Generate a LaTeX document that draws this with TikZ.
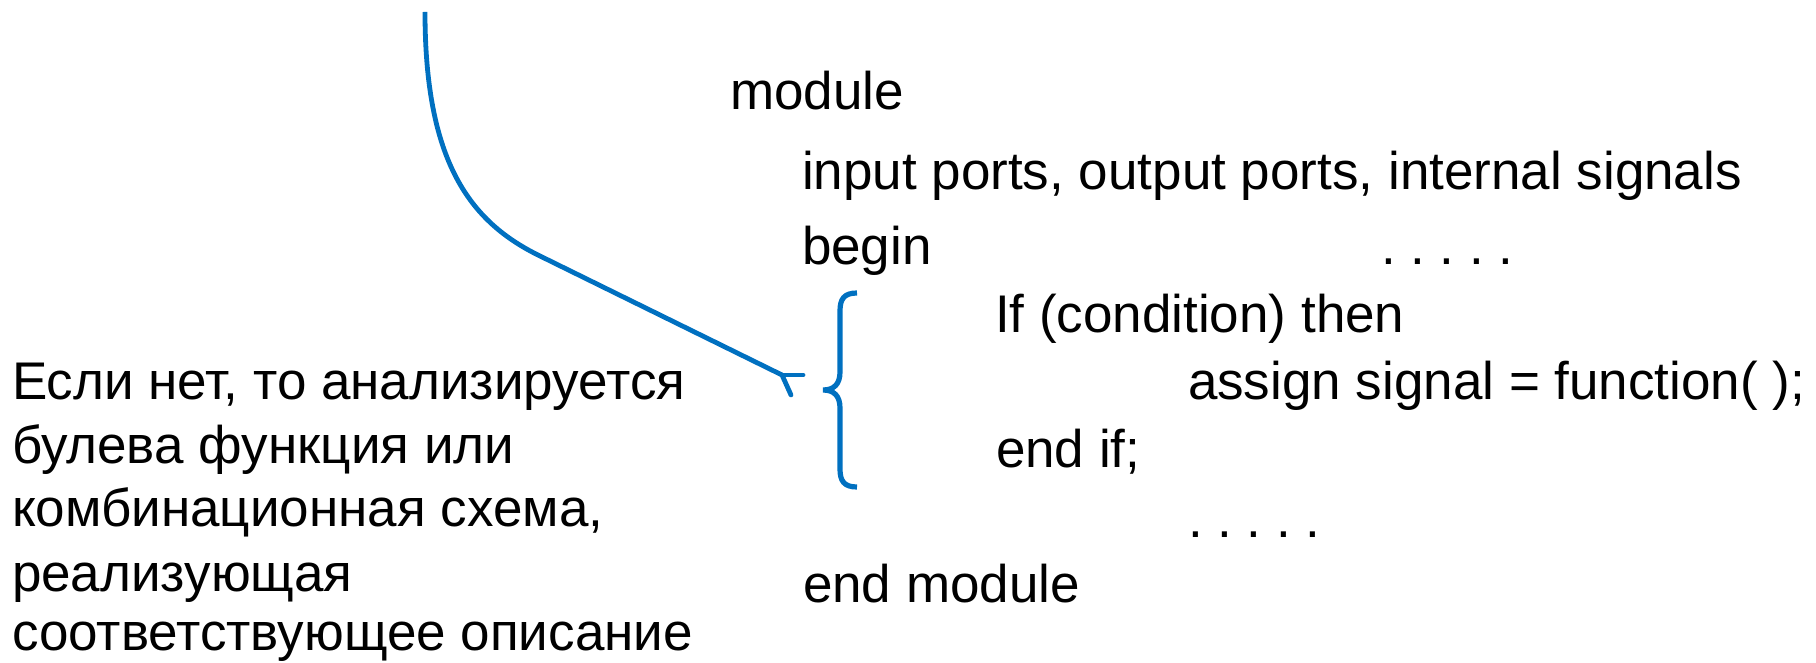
\documentclass[tikz,border=0pt]{standalone}
\usepackage{fontspec}
\setmainfont{Liberation Sans}
\definecolor{blu}{HTML}{0070C0}
\frenchspacing
\begin{document}
\begin{tikzpicture}[x=0.5pt,y=-0.5pt,
  txt/.style={inner sep=0pt, outer sep=0pt, anchor=base west, font=\fontsize{26.5pt}{31pt}\selectfont, text=black},
  bluline/.style={draw=blu, line width=2.4pt},
  bracestyle/.style={draw=blu, line width=2.6pt}]
\useasboundingbox (0,0) rectangle (1816,663);
% code text
\node[txt] (mod)   at (730,110) {module};
\node[txt] (ports) at (802,190) {input ports, output ports, internal signals};
\node[txt] (begin) at (802,265) {begin};
\node[txt] (dotsA) at (1381,265) {. . . . .};
\node[txt] (ifc)   at (995,333) {If (condition) then};
\node[txt] (asg)   at (1188,400) {assign signal = function( );};
\node[txt] (endif) at (996,467) {end if;};
\node[txt] (dotsB) at (1188,537) {. . . . .};
\node[txt] (endm)  at (803,602) {end module};
% comment text
\node[txt] (c1) at (12,400) {Если нет, то анализируется};
\node[txt] (c2) at (12,463) {булева функция или};
\node[txt] (c3) at (12,526) {комбинационная схема,};
\node[txt] (c4) at (12,591) {реализующая};
\node[txt] (c5) at (12,650) {соответствующее описание};
% brace
\coordinate (btop) at (857,293);
\coordinate (btip) at (823,390);
\coordinate (bbot) at (857,487);
\draw[bracestyle] (btop) .. controls (844,293) and (840,299) .. (840,311)
  -- (840,372) .. controls (840,384) and (834,390) .. (btip)
  .. controls (834,390) and (840,396) .. (840,408)
  -- (840,469) .. controls (840,481) and (844,487) .. (bbot);
% connector
\coordinate (start) at (425,12);
\coordinate (bend) at (540,256);
\coordinate (jn) at (782,375);
\draw[bluline] (start) .. controls (425,162) and (470,222) .. (bend) -- (jn);
\draw[bluline, line cap=round] (jn) -- ++(21,0);
\draw[bluline, line cap=round] (jn) -- ++(9,20);
\end{tikzpicture}
\end{document}
